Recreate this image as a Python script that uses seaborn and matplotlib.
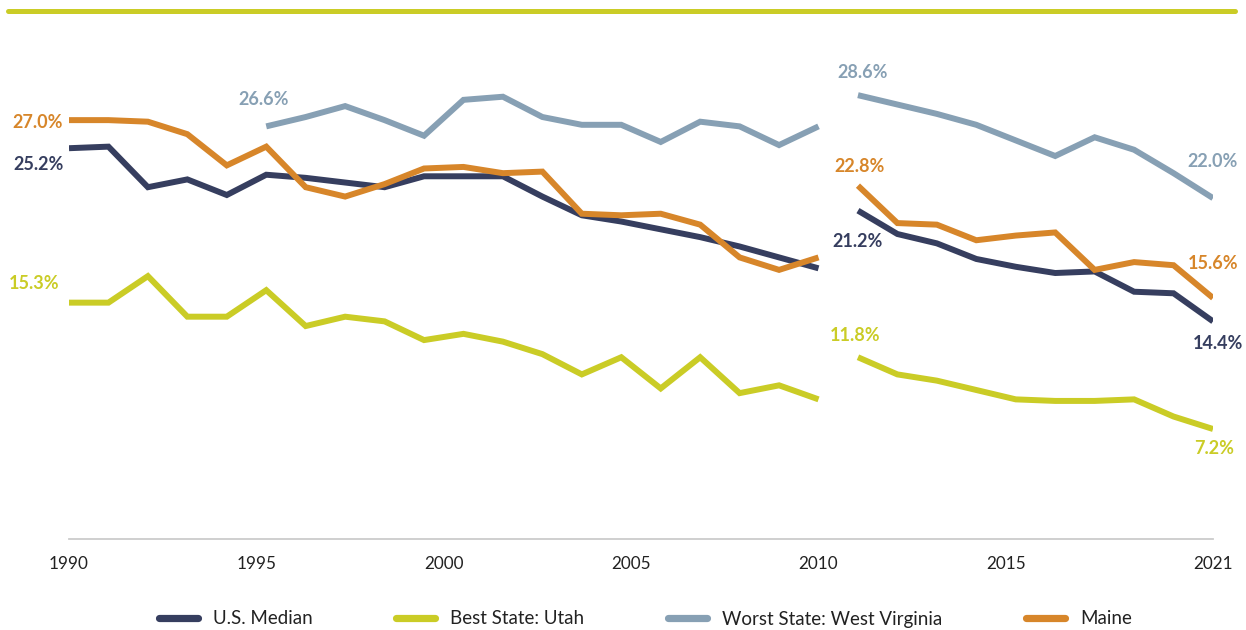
import numpy as np
import pandas as pd
import matplotlib
matplotlib.use("Agg")
import matplotlib.pyplot as plt
import seaborn as sns
from matplotlib.lines import Line2D

# data (adult smoking rate, %)
# points are evenly spaced: 20 points 1990-2010, then 10 points 2011-2021
us_a = [25.2, 25.3, 22.7, 23.2, 22.2, 23.5, 23.3, 23.0, 22.7, 23.4,
        23.4, 23.4, 22.1, 20.9, 20.5, 20.0, 19.5, 18.9, 18.2, 17.5]
us_b = [21.2, 19.7, 19.1, 18.1, 17.6, 17.2, 17.3, 16.0, 15.9, 14.1]
utah_a = [15.3, 15.3, 17.0, 14.4, 14.4, 16.1, 13.8, 14.4, 14.1, 12.9,
          13.3, 12.8, 12.0, 10.7, 11.8, 9.8, 11.8, 9.5, 10.0, 9.1]
utah_b = [11.8, 10.7, 10.3, 9.7, 9.1, 9.0, 9.0, 9.1, 8.0, 7.2]
wv_a = [26.6, 27.2, 27.9, 27.0, 26.0, 28.3, 28.5, 27.2, 26.7, 26.7,
        25.6, 26.9, 26.6, 25.4, 26.6]          # starts at 6th point
wv_b = [28.6, 28.0, 27.4, 26.7, 25.7, 24.7, 25.9, 25.1, 23.6, 22.0]
maine_a = [27.0, 27.0, 26.9, 26.1, 24.1, 25.3, 22.7, 22.1, 22.9, 23.9,
           24.0, 23.6, 23.7, 21.0, 20.9, 21.0, 20.3, 18.2, 17.4, 18.2]
maine_b = [22.8, 20.4, 20.3, 19.3, 19.6, 19.8, 17.4, 17.9, 17.7, 15.6]

series = ["U.S. Median", "Best State: Utah", "Worst State: West Virginia", "Maine"]
colors = ["#363e5f", "#cacc26", "#87a0b4", "#d7862a"]

tick_years = [1990, 1995, 2000, 2005, 2010, 2015, 2020, 2021]
tick_labels = ["1990", "1995", "2000", "2005", "2010", "2015", "", "2021"]

# build long table
rows = []
def add(name, period, start, vals):
    for k, v in enumerate(vals):
        rows.append({"series": name, "period": period, "idx": start + k, "rate": v})

add(series[0], "a", 0, us_a)
add(series[0], "b", 20, us_b)
add(series[1], "a", 0, utah_a)
add(series[1], "b", 20, utah_b)
add(series[2], "a", 5, wv_a)
add(series[2], "b", 20, wv_b)
add(series[3], "a", 0, maine_a)
add(series[3], "b", 20, maine_b)
df = pd.DataFrame(rows)

sns.set_style("white")
plt.rcParams["font.family"] = ["Lato", "DejaVu Sans"]

fig = plt.figure(figsize=(12.46, 6.3), dpi=100)
ax = fig.add_axes([69 / 1246, 90.7 / 630, (1213 - 69) / 1246, 15.6 * 32 / 630])

pal = dict(zip(series, colors))
sns.lineplot(data=df, x="idx", y="rate", hue="series", units="period",
             estimator=None, palette=pal, linewidth=4.3, legend=False,
             ax=ax, sort=False)
for ln in ax.lines:
    ln.set_solid_joinstyle("miter")
    ln.set_solid_capstyle("butt")

ax.set_xlim(0, 29)
ax.set_ylim(0.13, 32.13)
ax.set_xlabel("")
ax.set_ylabel("")
ax.set_yticks([])

# year -> point position (1990..2010 spread over 20 points), last tick at the end
pos = [(y - 1990) * 19 / 20 for y in tick_years[:-1]] + [29]
ax.set_xticks(pos)
ax.set_xticklabels(tick_labels)
ax.tick_params(axis="x", length=8.7, width=1.3, color="#cccccc",
               labelsize=12.3, labelcolor="#222222", pad=3)

for s in ["top", "left", "right"]:
    ax.spines[s].set_visible(False)
ax.spines["bottom"].set_color("#cccccc")
ax.spines["bottom"].set_linewidth(1.3)

# value labels (text, series index, x idx, y value, offset in points, ha)
lab = [
    ("27.0%", 3, 0, maine_a[0], (-4.3, -1.4), "right"),
    ("25.2%", 0, 0, us_a[0], (-4, -11.5), "right"),
    ("15.3%", 1, 0, utah_a[0], (-7, 14), "right"),
    ("26.6%", 2, 5, wv_a[0], (-2, 19), "center"),
    ("28.6%", 2, 20, wv_b[0], (3, 16), "center"),
    ("22.8%", 3, 20, maine_b[0], (1.5, 14), "center"),
    ("21.2%", 0, 20, us_b[0], (0, -22), "center"),
    ("11.8%", 1, 20, utah_b[0], (-2, 16), "center"),
    ("22.0%", 2, 29, wv_b[-1], (0, 26.5), "center"),
    ("15.6%", 3, 29, maine_b[-1], (0, 25), "center"),
    ("14.4%", 0, 29, us_b[-1], (3.5, -16), "center"),
    ("7.2%", 1, 29, utah_b[-1], (1, -14), "center"),
]
for txt, si, xi, yv, off, ha in lab:
    ax.annotate(txt, xy=(xi, yv), xytext=off, textcoords="offset points",
                ha=ha, va="center", fontsize=13, fontweight="bold",
                color=colors[si], annotation_clip=False)

# top rule
fig.add_artist(Line2D([8 / 1246, 1235 / 1246], [1 - 10.5 / 630] * 2,
                      transform=fig.transFigure, color="#cacc26", lw=3.6))

handles = [Line2D([], [], color=c, lw=5.2) for c in colors]
fig.legend(handles, series, loc="center", bbox_to_anchor=(0.518, 11 / 630),
           ncol=4, frameon=False, fontsize=13.5, handlelength=2.1,
           handletextpad=0.8, columnspacing=4.45, labelcolor="#222222")

fig.savefig("out.png", dpi=100)
